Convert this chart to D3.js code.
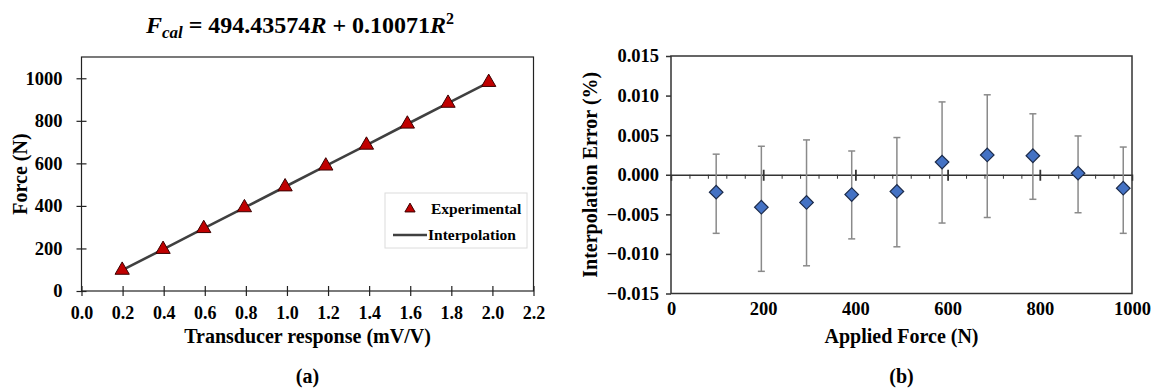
<!DOCTYPE html>
<html><head><meta charset="utf-8">
<script src="https://cdn.jsdelivr.net/npm/d3@7"></script>
<style>
body{margin:0;background:#fff}
svg{display:block}
text{font-family:"Liberation Serif","Times New Roman",serif;font-weight:bold;fill:#000}
</style>
</head><body>
<svg id="c" width="1157" height="390"></svg>
<script>
// ---- Panel (a) data ----
const transducerResponse = [0.198, 0.397, 0.595, 0.793, 0.991, 1.189, 1.387, 1.586, 1.784, 1.982];
const experimentalForce = [98, 196, 294, 392, 490, 588, 686, 785, 883, 981];
const interpolationR = [0.198, 0.397, 0.595, 0.793, 0.991, 1.189, 1.387, 1.586, 1.784, 1.982];
const interpolationF = [98, 196, 294, 392, 490, 588, 686, 785, 883, 981];
const xTicksA = [0.0, 0.2, 0.4, 0.6, 0.8, 1.0, 1.2, 1.4, 1.6, 1.8, 2.0, 2.2];
const yTicksA = [0, 200, 400, 600, 800, 1000];

// ---- Panel (b) data ----
const appliedForce = [98, 196, 294, 392, 490, 588, 686, 785, 883, 981];
const interpolationError = [-0.0022, -0.0041, -0.0035, -0.0025, -0.0021, 0.0016, 0.0025, 0.0024, 0.0002, -0.0017];
const errorUpper = [0.0026, 0.0036, 0.0044, 0.0030, 0.0047, 0.0092, 0.0101, 0.0077, 0.0049, 0.0035];
const errorLower = [-0.0074, -0.0122, -0.0115, -0.0081, -0.0091, -0.0061, -0.0054, -0.0031, -0.0048, -0.0074];
const xTicksB = [0, 200, 400, 600, 800, 1000];
const xMinorTicksB = [40, 80, 120, 160, 240, 280, 320, 360, 440, 480, 520, 560, 640, 680, 720, 760, 840, 880, 920, 960];
const yTicksB = [-0.015, -0.010, -0.005, 0.000, 0.005, 0.010, 0.015];

const svg = d3.select('#c');

// ================= Panel (a) =================
const xA = d3.scaleLinear().domain([0, 2.2]).range([81.5, 533.5]);
const yA = d3.scaleLinear().domain([0, 1100]).range([291, 57]);
const gA = svg.append('g');

gA.append('rect')
  .attr('x', xA(0)).attr('y', yA(1100))
  .attr('width', xA(2.2) - xA(0)).attr('height', yA(0) - yA(1100))
  .attr('fill', 'none').attr('stroke', '#222').attr('stroke-width', 1.2);

const axA_y = gA.append('g').attr('transform', `translate(${xA(0)},0)`)
  .call(d3.axisLeft(yA).tickValues(yTicksA).tickFormat(d3.format('d')).tickSize(5).tickPadding(14));
axA_y.select('.domain').remove();
axA_y.selectAll('.tick line').attr('x1', 5).attr('x2', -5).attr('stroke', '#222').attr('stroke-width', 1.2);
axA_y.selectAll('.tick text').style('font-size', '18.5px').attr('fill', '#000');

const axA_x = gA.append('g').attr('transform', `translate(0,${yA(0)})`)
  .call(d3.axisBottom(xA).tickValues(xTicksA).tickFormat(d3.format('.1f')).tickSize(5).tickPadding(10));
axA_x.select('.domain').remove();
axA_x.selectAll('.tick line').attr('y1', -5).attr('y2', 5).attr('stroke', '#222').attr('stroke-width', 1.2);
axA_x.selectAll('.tick text').style('font-size', '18px').attr('fill', '#000');

const lineA = d3.line().x((d, i) => xA(interpolationR[i])).y(d => yA(d));
gA.append('path').datum(interpolationF)
  .attr('d', lineA).attr('fill', 'none').attr('stroke', '#404040').attr('stroke-width', 2.6);

const tri = d3.symbol().type(d3.symbolTriangle).size(88);
gA.selectAll('path.tri').data(experimentalForce).join('path').attr('class', 'tri')
  .attr('d', tri)
  .attr('transform', (d, i) => `translate(${xA(transducerResponse[i])},${yA(d)})`)
  .attr('fill', '#c00000').attr('stroke', '#3a0000').attr('stroke-width', 1);

// legend
const lg = gA.append('g');
lg.append('rect').attr('x', 385).attr('y', 193).attr('width', 142).attr('height', 55)
  .attr('fill', '#fff').attr('stroke', '#dcdcdc').attr('stroke-width', 1);
lg.append('path').attr('d', d3.symbol().type(d3.symbolTriangle).size(45)())
  .attr('transform', 'translate(410,209)')
  .attr('fill', '#c00000').attr('stroke', '#3a0000').attr('stroke-width', 1);
lg.append('text').attr('x', 431).attr('y', 214).style('font-size', '15.5px').text('Experimental');
lg.append('line').attr('x1', 393).attr('x2', 427).attr('y1', 235).attr('y2', 235)
  .attr('stroke', '#404040').attr('stroke-width', 2.6);
lg.append('text').attr('x', 428).attr('y', 240).style('font-size', '15.5px').text('Interpolation');

// titles
const title = gA.append('text').attr('x', 300).attr('y', 33).attr('text-anchor', 'middle').style('font-size', '24px');
title.append('tspan').style('font-style', 'italic').text('F');
title.append('tspan').style('font-style', 'italic').style('font-size', '17px').attr('dy', 5).text('cal');
title.append('tspan').attr('dy', -5).text(' = 494.43574');
title.append('tspan').style('font-style', 'italic').text('R');
title.append('tspan').text(' + 0.10071');
title.append('tspan').style('font-style', 'italic').text('R');
title.append('tspan').style('font-size', '16px').attr('dy', -9).text('2');

gA.append('text').attr('transform', 'translate(27,174) rotate(-90)').attr('text-anchor', 'middle')
  .style('font-size', '20px').text('Force (N)');
gA.append('text').attr('x', xA(1.1)).attr('y', 343).attr('text-anchor', 'middle')
  .style('font-size', '20px').text('Transducer response (mV/V)');
gA.append('text').attr('x', xA(1.1)).attr('y', 383).attr('text-anchor', 'middle')
  .style('font-size', '20px').text('(a)');

// ================= Panel (b) =================
const xB = d3.scaleLinear().domain([0, 1000]).range([671, 1132]);
const yB = d3.scaleLinear().domain([-0.015, 0.015]).range([293.5, 56]);
const gB = svg.append('g');

gB.append('rect')
  .attr('x', xB(0)).attr('y', yB(0.015))
  .attr('width', xB(1000) - xB(0)).attr('height', yB(-0.015) - yB(0.015))
  .attr('fill', 'none').attr('stroke', '#333').attr('stroke-width', 1.5);

const axB_y = gB.append('g').attr('transform', `translate(${xB(0)},0)`)
  .call(d3.axisLeft(yB).tickValues(yTicksB).tickFormat(d3.format('.3f')).tickSize(5).tickPadding(7));
axB_y.select('.domain').remove();
axB_y.selectAll('.tick line').attr('stroke', '#333').attr('stroke-width', 1.5);
axB_y.selectAll('.tick text').style('font-size', '18.5px').attr('fill', '#000');

// zero line axis with ticks
const y0 = yB(0);
const axB_x0 = gB.append('g').attr('transform', `translate(0,${y0})`)
  .call(d3.axisBottom(xB).tickValues(xTicksB.slice(1, -1)).tickFormat('').tickSize(6));
axB_x0.select('.domain').attr('stroke', '#333').attr('stroke-width', 1.5);
axB_x0.selectAll('.tick line').attr('y1', -5).attr('y2', 6).attr('stroke', '#333').attr('stroke-width', 1.8);
const axB_minor = gB.append('g').attr('transform', `translate(0,${y0})`)
  .call(d3.axisBottom(xB).tickValues(xMinorTicksB).tickFormat('').tickSize(4));
axB_minor.select('.domain').remove();
axB_minor.selectAll('.tick line').attr('stroke', '#333').attr('stroke-width', 1);

// bottom labels
const axB_x = gB.append('g').attr('transform', `translate(0,${yB(-0.015)})`)
  .call(d3.axisBottom(xB).tickValues(xTicksB).tickFormat(d3.format('d')).tickSize(0).tickPadding(8));
axB_x.select('.domain').remove();
axB_x.selectAll('.tick text').style('font-size', '18.5px').attr('fill', '#000');

// error bars
const eb = gB.append('g');
eb.selectAll('line.v').data(appliedForce).join('line').attr('class', 'v')
  .attr('x1', d => xB(d)).attr('x2', d => xB(d))
  .attr('y1', (d, i) => yB(errorUpper[i])).attr('y2', (d, i) => yB(errorLower[i]))
  .attr('stroke', '#8a8a8a').attr('stroke-width', 1.5);
eb.selectAll('line.ct').data(appliedForce).join('line').attr('class', 'ct')
  .attr('x1', d => xB(d) - 3.5).attr('x2', d => xB(d) + 3.5)
  .attr('y1', (d, i) => yB(errorUpper[i])).attr('y2', (d, i) => yB(errorUpper[i]))
  .attr('stroke', '#8a8a8a').attr('stroke-width', 1.5);
eb.selectAll('line.cb').data(appliedForce).join('line').attr('class', 'cb')
  .attr('x1', d => xB(d) - 3.5).attr('x2', d => xB(d) + 3.5)
  .attr('y1', (d, i) => yB(errorLower[i])).attr('y2', (d, i) => yB(errorLower[i]))
  .attr('stroke', '#8a8a8a').attr('stroke-width', 1.5);

const dia = d3.symbol().type(d3.symbolSquare).size(92);
gB.selectAll('path.dia').data(interpolationError).join('path').attr('class', 'dia')
  .attr('d', dia)
  .attr('transform', (d, i) => `translate(${xB(appliedForce[i])},${yB(d)}) rotate(45)`)
  .attr('fill', '#4472c4').attr('stroke', '#1c2b4a').attr('stroke-width', 1.2);

gB.append('text').attr('transform', `translate(597,${yB(0)}) rotate(-90)`).attr('text-anchor', 'middle')
  .style('font-size', '20px').text('Interpolation Error (%)');
gB.append('text').attr('x', xB(500)).attr('y', 343).attr('text-anchor', 'middle')
  .style('font-size', '20px').text('Applied Force (N)');
gB.append('text').attr('x', xB(500)).attr('y', 383).attr('text-anchor', 'middle')
  .style('font-size', '20px').text('(b)');
</script>
</body></html>
